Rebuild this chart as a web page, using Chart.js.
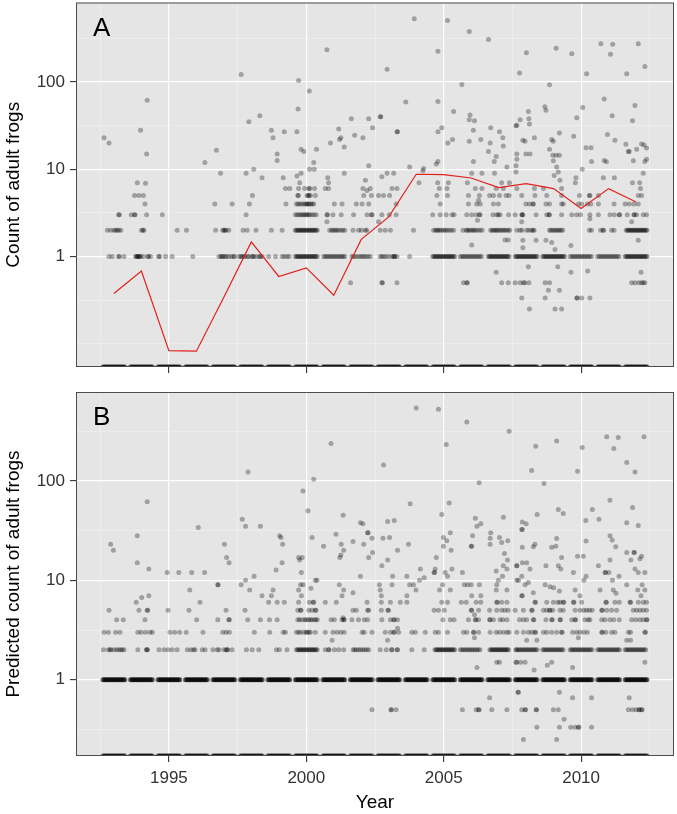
<!DOCTYPE html>
<html><head><meta charset="utf-8">
<script src="https://cdn.jsdelivr.net/npm/chart.js"></script>
<style>
html,body{margin:0;padding:0;background:#fff;overflow:hidden;}
#wrap{position:relative;width:677px;height:814px;}
canvas{position:absolute;left:0;}
</style></head><body>
<div id="wrap">
<canvas id="cA" width="677" height="380" style="top:0px"></canvas>
<canvas id="cB" width="677" height="434" style="top:380px"></canvas>
</div>
<script>
// ---------- axis ticks ----------
const xGridYears = [1992.5, 1995, 1997.5, 2000, 2002.5, 2005, 2007.5, 2010, 2012.5];
const xTickLabels = [1995, 2000, 2005, 2010];
const yTickLabels = [1, 10, 100];
const yMinorA = [0.1, 0.3162, 3.162, 31.62, 316.2];
const yMinorB = [0.3162, 3.162, 31.62, 316.2];

// ---------- red line: panel A yearly value ----------
const lineYears = [1993,1994,1995,1996,1997,1998,1999,2000,2001,2002,2003,2004,2005,2006,2007,2008,2009,2010,2011,2012];
const lineValues = [0.377,0.68,0.083,0.082,0.34,1.47,0.59,0.74,0.36,1.57,2.84,8.77,8.7,7.95,6.17,6.86,6.0,3.55,6.0,4.22];

// ---------- survey positions with a count of zero (drawn on the panel floor); panel B count = 1 fills the same spans ----------
const denseRowX = [
1992.6,1992.64,1992.68,1992.72,1992.76,1992.8,1992.84,1992.88,1992.92,1992.96,1993,1993.04,1993.08,1993.12,1993.16,1993.2,1993.24,1993.28,1993.32,1993.36,1993.4,
1993.6,1993.64,1993.68,1993.72,1993.76,1993.8,1993.84,1993.88,1993.92,1993.96,1994,1994.04,1994.08,1994.12,1994.16,1994.2,1994.24,1994.28,1994.32,1994.36,1994.4,
1994.6,1994.64,1994.68,1994.72,1994.76,1994.8,1994.84,1994.88,1994.92,1994.96,1995,1995.04,1995.08,1995.12,1995.16,1995.2,1995.24,1995.28,1995.32,1995.36,1995.4,
1995.6,1995.64,1995.68,1995.72,1995.76,1995.8,1995.84,1995.88,1995.92,1995.96,1996,1996.04,1996.08,1996.12,1996.16,1996.2,1996.24,1996.28,1996.32,1996.36,1996.4,
1996.6,1996.64,1996.68,1996.72,1996.76,1996.8,1996.84,1996.88,1996.92,1996.96,1997,1997.04,1997.08,1997.12,1997.16,1997.2,1997.24,1997.28,1997.32,1997.36,1997.4,
1997.6,1997.64,1997.68,1997.72,1997.76,1997.8,1997.84,1997.88,1997.92,1997.96,1998,1998.04,1998.08,1998.12,1998.16,1998.2,1998.24,1998.28,1998.32,1998.36,1998.4,
1998.6,1998.64,1998.68,1998.72,1998.76,1998.8,1998.84,1998.88,1998.92,1998.96,1999,1999.04,1999.08,1999.12,1999.16,1999.2,1999.24,1999.28,1999.32,1999.36,1999.4,
1999.6,1999.64,1999.68,1999.72,1999.76,1999.8,1999.84,1999.88,1999.92,1999.96,2000,2000.04,2000.08,2000.12,2000.16,2000.2,2000.24,2000.28,2000.32,2000.36,2000.4,
2000.6,2000.64,2000.68,2000.72,2000.76,2000.8,2000.84,2000.88,2000.92,2000.96,2001,2001.04,2001.08,2001.12,2001.16,2001.2,2001.24,2001.28,2001.32,2001.36,2001.4,
2001.6,2001.64,2001.68,2001.72,2001.76,2001.8,2001.84,2001.88,2001.92,2001.96,2002,2002.04,2002.08,2002.12,2002.16,2002.2,2002.24,2002.28,2002.32,2002.36,2002.4,
2002.6,2002.64,2002.68,2002.72,2002.76,2002.8,2002.84,2002.88,2002.92,2002.96,2003,2003.04,2003.08,2003.12,2003.16,2003.2,2003.24,2003.28,2003.32,2003.36,2003.4,
2003.6,2003.64,2003.68,2003.72,2003.76,2003.8,2003.84,2003.88,2003.92,2003.96,2004,2004.04,2004.08,2004.12,2004.16,2004.2,2004.24,2004.28,2004.32,2004.36,2004.4,
2004.6,2004.64,2004.68,2004.72,2004.76,2004.8,2004.84,2004.88,2004.92,2004.96,2005,2005.04,2005.08,2005.12,2005.16,2005.2,2005.24,2005.28,2005.32,2005.36,2005.4,
2005.6,2005.64,2005.68,2005.72,2005.76,2005.8,2005.84,2005.88,2005.92,2005.96,2006,2006.04,2006.08,2006.12,2006.16,2006.2,2006.24,2006.28,2006.32,2006.36,2006.4,
2006.6,2006.64,2006.68,2006.72,2006.76,2006.8,2006.84,2006.88,2006.92,2006.96,2007,2007.04,2007.08,2007.12,2007.16,2007.2,2007.24,2007.28,2007.32,2007.36,2007.4,
2007.6,2007.64,2007.68,2007.72,2007.76,2007.8,2007.84,2007.88,2007.92,2007.96,2008,2008.04,2008.08,2008.12,2008.16,2008.2,2008.24,2008.28,2008.32,2008.36,2008.4,
2008.6,2008.64,2008.68,2008.72,2008.76,2008.8,2008.84,2008.88,2008.92,2008.96,2009,2009.04,2009.08,2009.12,2009.16,2009.2,2009.24,2009.28,2009.32,2009.36,2009.4,
2009.6,2009.64,2009.68,2009.72,2009.76,2009.8,2009.84,2009.88,2009.92,2009.96,2010,2010.04,2010.08,2010.12,2010.16,2010.2,2010.24,2010.28,2010.32,2010.36,2010.4,
2010.6,2010.64,2010.68,2010.72,2010.76,2010.8,2010.84,2010.88,2010.92,2010.96,2011,2011.04,2011.08,2011.12,2011.16,2011.2,2011.24,2011.28,2011.32,2011.36,2011.4,
2011.6,2011.64,2011.68,2011.72,2011.76,2011.8,2011.84,2011.88,2011.92,2011.96,2012,2012.04,2012.08,2012.12,2012.16,2012.2,2012.24,2012.28,2012.32,2012.36,2012.4];

// ---------- panel A: observed counts ----------
const aOnes = [1992.82,1992.94,1993.17,1993.2,1993.37,
1993.79,1993.82,1993.85,1993.88,1993.91,1993.94,1993.97,1994.07,1994.23,1994.26,1994.33,
1994.63,1994.66,1994.88,1995.12,1995.87,
1996.82,1996.9,1996.94,1996.96,1997.06,1997.08,1997.18,1997.27,1997.36,1997.38,
1997.55,1997.63,1997.66,1997.73,1997.76,1997.87,1997.9,1998.03,1998.05,1998.1,1998.2,1998.3,1998.33,1998.4,
1998.63,1998.88,1999.12,1999.2,1999.3,1999.38,
1999.6,1999.64,1999.68,1999.72,1999.76,1999.8,1999.84,1999.88,1999.92,1999.96,2000,2000.04,2000.08,2000.12,2000.16,2000.2,2000.24,2000.28,2000.32,2000.36,2000.4,
2000.63,2000.69,2000.75,2000.81,2000.87,2000.93,2000.99,2001.05,2001.11,2001.17,2001.23,2001.29,2001.35,2001.4,
2001.66,2001.72,2001.8,2001.88,2001.97,2002.03,2002.1,2002.17,2002.25,2002.33,
2002.69,2002.75,2002.82,2002.9,2003,2003.12,2003.18,2003.2,2003.22,2003.3,2003.76,
2004.6,2004.64,2004.68,2004.72,2004.76,2004.8,2004.84,2004.88,2004.92,2004.96,2005,2005.04,2005.08,2005.12,2005.16,2005.2,2005.24,2005.28,2005.32,2005.36,2005.4,
2005.6,2005.66,2005.72,2005.78,2005.84,2005.9,2005.96,2006.02,2006.08,2006.14,2006.2,2006.26,2006.32,2006.38,
2006.62,2006.66,2006.7,2006.74,2006.78,2006.82,2006.86,2006.9,2006.94,2006.98,2007.02,2007.06,2007.1,2007.14,2007.18,2007.22,2007.26,2007.3,2007.34,2007.38,
2007.6,2007.64,2007.68,2007.72,2007.76,2007.8,2007.84,2007.88,2007.92,2007.96,2008,2008.04,2008.08,2008.12,2008.16,2008.2,2008.24,2008.28,2008.32,2008.36,2008.4,
2008.6,2008.64,2008.68,2008.72,2008.76,2008.8,2008.84,2008.88,2008.92,2008.96,2009,2009.04,2009.08,2009.12,2009.16,2009.2,2009.24,2009.28,2009.32,2009.36,2009.4,
2009.6,2009.66,2009.72,2009.78,2009.84,2009.9,2009.96,2010.02,2010.08,2010.14,2010.2,2010.26,2010.32,2010.38,
2010.6,2010.66,2010.72,2010.78,2010.84,2010.9,2010.96,2011.02,2011.08,2011.14,2011.2,2011.26,2011.32,2011.38,
2011.6,2011.64,2011.68,2011.72,2011.76,2011.8,2011.84,2011.88,2011.92,2011.96,2012,2012.04,2012.08,2012.12,2012.16,2012.2,2012.24,2012.28,2012.32,2012.36,2012.4];

const aTwos = [1992.76,1992.88,1993,1993.06,1993.12,1993.18,1993.25,1994,1994.06,1994.09,1995.3,1995.64,
1996.7,1996.96,1997,1997.04,1997.08,1997.18,1997.7,1997.85,1998.17,1998.73,1999.12,
1999.6,1999.64,1999.68,1999.72,1999.76,1999.8,1999.84,1999.88,1999.92,1999.96,2000,2000.04,2000.08,2000.12,2000.16,2000.2,2000.24,2000.28,2000.32,2000.36,2000.4,
2000.85,2000.92,2000.98,2001.05,2001.1,2001.17,2001.25,2001.33,2001.4,2001.7,2001.9,2002,2002.15,2002.2,2002.69,2002.87,2003.06,2003.9,
2004.63,2004.7,2004.76,2004.8,2004.86,2004.92,2005,2005.05,2005.12,2005.2,2005.28,2005.36,
2005.7,2005.82,2005.86,2005.92,2005.98,2006.05,2006.1,2006.16,2006.24,2006.32,2006.4,
2006.71,2006.76,2006.82,2006.88,2006.92,2006.98,2007.04,2007.1,2007.16,2007.22,2007.28,2007.35,2007.4,
2007.66,2007.78,2007.85,2008.02,2008.1,2008.2,2008.25,2008.29,
2008.85,2008.9,2008.97,2009.03,2009.09,2009.15,2009.21,2009.27,2009.33,
2010.3,2010.38,2010.71,2010.8,2010.82,2011.11,2011.2,
2011.64,2011.68,2011.72,2011.76,2011.8,2011.84,2011.88,2011.92,2011.96,2012,2012.04,2012.08,2012.12,2012.16,2012.2,2012.24,2012.28,2012.32,2012.36,2012.4];

const aThrees = [1993.17,1993.2,1993.63,1993.75,1993.77,1994.19,1994.76,1997.81,
1999.6,1999.67,1999.74,1999.8,1999.86,1999.92,1999.97,2000.02,2000.07,2000.12,2000.2,2000.28,2000.36,
2000.75,2000.77,2000.97,2001.27,2001.72,2002.21,2002.37,2002.39,2002.75,2003.02,2003.27,
2004.6,2004.87,2005.09,2005.3,2005.38,2005.84,2006.02,2006.18,2006.3,2006.32,
2006.79,2006.93,2006.99,2007.05,2007.36,2007.6,2007.84,2007.86,2007.88,2008.36,2008.75,2008.83,2008.85,2009.29,
2009.66,2009.84,2009.98,2010.32,2010.63,2011.05,2011.21,2011.39,2011.4,2011.68,2011.92,2011.94,2012.02,2012.26,2012.38];

const aFours = [1994.13,1996.67,1997.3,1997.93,1999.26,1999.64,1999.7,1999.77,1999.84,1999.92,1999.98,2000.02,2000.06,2000.1,2000.16,2000.22,2000.27,
2001.02,2001.3,2001.82,2002.03,2002.27,2003.27,2004.87,2005.9,2006.2,2006.33,2006.81,2006.99,
2007.99,2008.12,2008.25,2008.26,2008.72,2008.85,2009.29,2009.35,2009.9,2010.02,2010.23,2010.35,2010.63,2011.2,2011.6,2011.75,2011.92,2012.08];

const aFives = [1993.75,1993.91,1994.07,1998.04,1999.69,1999.71,2000.03,2000.07,2000.1,2000.15,2000.33,2002.09,2002.37,2002.63,2002.81,2003.03,
2004.75,2005.14,2005.9,2006.3,2006.67,2006.81,2007.03,2007.27,2007.38,2007.84,2008.32,2008.75,2009.29,2009.94,2010.3,2010.32,2010.63,2012.08,2012.2];

const aSixes = [1999.24,1999.4,1999.72,1999.94,2000.1,2000.12,2000.3,2000.69,2000.81,2002.06,2002.33,2003.12,2003.3,2004.84,2005.12,
2006.15,2006.39,2006.91,2007.17,2007.66,2008.3,2008.63,2009.29,2012.16];

const aOther = [[1992.64,23],[1992.82,20],[1993.97,28],[1994.21,62],[1994.19,15],[1996.31,12],[1996.73,16.5],[1996.88,9],[1993.85,7],[1994.15,6.9],
[2000.75,235],[1997.63,122],[1999.72,104],[2000.11,79],[1999.7,49],[1998.31,41],[1997.91,35],[1998.73,28],[1998.79,23],[1999.2,27],[1999.66,27],[1998.94,15],[1998.94,12.6],[1999.81,17],[1999.91,16],[2000.37,17],[2000.27,12],[2000.12,10],[2000.29,10],[2001.64,38],[2002.27,38],[2001.18,29],[2001.26,23],[2001.21,22],[2000.88,20],[2001.76,24.5],[2002.06,23],[2001.38,18],[2002.27,11],[1997.81,9],[1998.09,10],[1998.39,8],[1999.16,8],[1999.66,8.4],[1999.81,9],[1999.76,7],[2000.78,8],[2000.81,7],[2001.38,9],[2002.15,7.5],[2002.21,5.7],[2000.75,2.5],[2001.61,0.5],
[2003.93,532],[2005.14,509],[2005.93,381],[2006.63,308],[2004.79,226],[2002.94,140],[2007.76,127],[2005.66,94],[2003.62,59],[2004.79,60],[2005.36,46],[2002.41,30],[2002.69,40],[2002.71,40],[2003.3,27],[2003.32,27],[2004.93,30],[2004.79,27],[2005.15,20],[2005.32,22],[2005.96,42],[2006.12,36],[2005.93,37],[2006.08,28],[2005.93,21],[2006.35,22],[2006.71,30],[2006.69,20],[2007.03,27],[2007.15,23],[2007.17,18.5],[2006.63,16],[2006.91,14],[2006.84,12.3],[2007.63,31.5],[2007.66,15],[2007.66,13],[2004.79,12.3],[2004.73,11.5],[2006.08,12.3],[2003.76,10.6],[2004.27,10.2],[2004.24,9.6],[2002.94,9],[2002.75,8.2],[2003.18,9],[2004.78,7],[2005.17,7],[2005.86,7],[2006.02,9],[2006.39,9],[2006.85,9],[2007.11,7],[2007.39,7],[2007.3,10.6],[2007.63,11],[2002.63,2.5],[2006.23,2.6],[2006.27,4.4],[2006.02,1.35],[2007.23,1.54],[2007.35,1.54],[2006.91,0.66],[2004.1,7],
[2002.75,0.5],[2002.77,0.5],[2003.3,0.5],[2005.72,0.5],[2005.84,0.5],[2005.86,0.5],[2007.11,0.5],[2007.35,0.5],[2007.6,0.5],[2007.78,0.5],[2007.9,0.5],[2007.95,0.5],[2008.1,0.5],[2008.69,0.5],[2008.85,0.5],[2011.84,0.5],[2011.96,0.5],[2012.1,0.5],[2012.2,0.5],[2012.26,0.5],[2012.32,0.5],
[2010.72,275],[2011.15,272],[2012.08,275],[2011.07,208],[2012.32,151],[2008.01,217],[2009.09,245],[2009.66,212],[2010.2,125],[2011.66,125],[2008.85,93],[2010.84,64],[2011.96,54],[2011.13,41],[2010.06,51],[2009.84,39],[2008.72,47.5],[2008.68,52],[2008.08,46],[2008.1,38],[2008.12,33],[2007.78,37],[2007.66,32],[2009.21,26],[2008.93,22],[2008.99,21],[2009.73,24],[2008.3,23],[2007.88,21.5],[2007.96,21],[2011.87,36],[2010.96,25],[2011.23,21.5],[2011.63,19.4],[2011.72,16],[2011.75,16],[2012.02,17],[2012.2,19.5],[2012.29,19],[2012.38,17.5],[2010.18,17.7],[2010.36,17.7],[2007.99,15],[2008.14,15],[2008.85,17],[2008.97,14.5],[2009.09,14.5],[2009.21,14.5],[2010.84,12.6],[2010.92,12.2],[2010.38,12.3],[2007.63,9.3],[2008.99,12.5],[2009.11,10.6],[2011.9,12.5],[2012.32,12.3],[2012.38,13],[2012.26,9],[2010.04,10],[2009.17,9.3],[2009.23,7.5],[2009.02,8.5],[2009.81,8],[2009.79,7],[2010.81,8],[2011.21,8],[2011.87,7],[2012.13,7],
[2008.36,1.53],[2008.72,1.53],[2008.93,1.45],[2007.88,1.53],[2007.88,1.26],[2009.05,1.2],[2009.63,1.34],[2012.08,1.53],[2008.08,0.76],[2009.15,0.76],[2010.24,0.68],[2009.63,0.66],[2012.18,0.66],[2008.81,0.41],[2009.21,0.41],
[2007.84,0.333],[2008.69,0.333],[2009.84,0.333],[2009.86,0.333],[2010.02,0.333],[2010.32,0.333],[2008.12,0.25],[2009.05,0.25],[2009.29,0.25],[2007.84,2.5],[2011.84,2.5],[2010.32,2.7]];

// ---------- panel B: predicted counts ----------
const bTwos = [1992.62,1992.8,1992.85,1992.9,1993,1993.1,1993.17,1993.25,1993.3,1993.37,1993.87,1994.18,1994.2,1994.22,1994.64,1994.82,1994.97,1995.12,1995.3,
1995.67,1995.8,1995.9,1995.95,1996.21,1996.32,1996.6,1996.76,1996.82,1997,1997.08,1997.12,1997.14,1997.3,1997.82,1998.03,1998.27,1998.91,1999.02,1999.3,
1999.64,1999.68,1999.72,1999.76,1999.8,1999.84,1999.88,1999.92,1999.96,2000,2000.04,2000.08,2000.12,2000.16,2000.2,2000.24,2000.28,2000.32,2000.36,2000.4,
2000.69,2000.81,2000.83,2001.02,2001.18,2001.36,2001.7,2001.76,2001.82,2001.9,2001.97,2002.05,2002.12,2002.2,2002.27,
2002.69,2002.91,2003.1,2003.12,2003.3,2003.32,2003.84,2004.29,
2004.68,2004.72,2004.76,2004.8,2004.84,2004.88,2004.92,2004.96,2005,2005.04,2005.08,2005.12,2005.16,2005.2,2005.24,2005.28,2005.32,2005.36,2005.4,
2005.6,2005.66,2005.72,2005.78,2005.84,2005.9,2005.96,2006.02,2006.08,2006.14,2006.2,2006.26,2006.32,
2006.68,2006.72,2006.76,2006.8,2006.84,2006.88,2006.92,2006.96,2007,2007.04,2007.08,2007.12,2007.16,2007.2,2007.24,2007.28,2007.32,2007.36,
2007.63,2007.65,2007.7,2007.75,2007.8,2007.85,2007.9,2007.95,2008,2008.05,2008.1,2008.15,2008.2,2008.25,2008.3,2008.35,2008.4,
2008.6,2008.65,2008.7,2008.75,2008.8,2008.85,2008.9,2008.95,2009,2009.05,2009.1,2009.15,2009.2,2009.25,2009.3,2009.35,
2009.6,2009.65,2009.7,2009.75,2009.8,2009.85,2009.9,2009.95,2010,2010.05,2010.1,2010.15,2010.2,2010.25,2010.3,2010.35,2010.4,
2010.6,2010.65,2010.7,2010.75,2010.8,2010.85,2010.9,2010.95,2011,2011.05,2011.1,2011.15,2011.2,2011.25,2011.3,2011.35,2011.4,
2011.6,2011.65,2011.7,2011.75,2011.8,2011.85,2011.9,2011.95,2012,2012.05,2012.1,2012.15,2012.2,2012.25,2012.3,2012.35];

const bThrees = [1992.64,1992.8,1993.06,1993.22,1993.87,1993.99,1994.15,1994.31,1994.4,1995.04,1995.21,1995.39,1995.63,1996.24,1996.96,1997.08,1997.2,1998.11,1998.67,1999.16,1999.24,
1999.64,1999.72,1999.79,1999.91,2000,2000.03,2000.1,2000.15,2000.33,2000.69,2000.97,2001.12,2001.26,2001.38,2002.03,2002.11,2002.39,2002.87,2003.06,2003.18,2003.2,2003.36,
2003.84,2003.97,2004.33,2004.69,2004.81,2005.14,2005.72,2005.84,2006.08,2006.1,2006.27,2006.69,2006.91,2007.03,2007.17,2007.3,2007.38,2007.66,2007.9,2008.08,2008.2,2008.32,2008.34,
2008.63,2008.75,2008.93,2009.11,2009.29,2009.31,2009.69,2009.84,2009.96,2010.1,2010.23,2010.75,2010.77,2010.9,2011.11,2011.23,2011.72,2011.8,2012.32,2012.34];

const bFours = [1993.1,1993.34,1994.13,1996.01,1996.78,1997.18,1997.2,1997.87,1998.33,1998.66,1998.94,1999.69,1999.75,1999.85,1999.95,2000,2000.08,2000.15,2000.2,2000.29,2000.35,2000.4,
2000.9,2001.02,2001.3,2001.36,2001.38,2001.66,2001.9,2002.11,2002.23,2002.75,2003.06,2003.18,2003.2,2003.32,2004.97,2005.24,2005.38,2005.9,2006.15,2006.17,2006.27,
2006.67,2006.69,2006.81,2007.05,2007.15,2007.3,2007.76,2007.9,2008.02,2008.26,2008.28,2008.72,2008.93,2008.95,2009.23,2009.25,2009.66,2009.78,2009.8,
2010.14,2010.26,2010.32,2010.75,2010.87,2011.05,2011.19,2011.39,2011.84,2011.99,2012.14,2012.26,2012.38,2012.4];

const bFives = [1992.82,1993.91,1994.21,1994.23,1994.97,1995.73,1997.08,1997.77,1999.69,1999.79,1999.81,2000.09,2000.21,2000.33,2000.35,2001.7,2001.82,2002.23,2002.27,2002.73,2002.97,2002.99,
2004.65,2004.81,2005.02,2006,2006.02,2006.27,2006.67,2006.93,2007.11,2007.23,2007.35,2007.6,2007.9,2008.2,2008.22,2008.63,2008.75,2008.85,2008.87,2008.97,2009.23,2009.35,
2009.78,2009.96,2010.1,2010.2,2010.3,2010.4,2010.75,2010.77,2010.93,2011.11,2011.29,2011.9,2012.02,2012.14,2012.26,2012.38];

const bSixes = [1993.81,1996.13,1998.63,1998.94,1999.2,1999.72,2000.11,2000.25,2000.27,2000.69,2001.09,2002.21,2002.73,2003.06,2003.42,2003.66,2004.93,2005.14,2005.64,2005.82,
2006.18,2006.35,2006.93,2006.95,2007.11,2007.3,2008.32,2008.34,2008.75,2008.99,2009.15,2009.23,2009.35,2009.37,2009.72,2009.74,2010.02,2010.9,2010.92,2011.23,2011.39,2011.78,2011.8,2012.08,2012.26,2012.38];

const bOther = [[1994.21,61.5],[1993.85,28],[1992.88,23],[1992.98,20],[1993.85,15],[1994.27,13],[1994.94,12],[1995.36,12],[1995.83,12],[1996.3,12],[1996.07,34],[1996.78,9],[1995.76,8],[1994.01,6.7],[1994.27,7],
[2000.9,238],[1997.88,123],[2000.27,104],[1999.88,79],[2000.06,50],[1997.67,41],[1997.79,35],[1998.33,35],[2001.34,45],[2001.97,38],[2002.06,37],[2002.23,30],[1997.02,23],[1997.1,17],[1997.19,15],[1999.03,28],[1999.08,27],[1999.14,23],[2000.21,27],[2000.63,22],[2001.08,29],[2001.27,23],[2001.36,20],[2001.26,18],[2001.22,17],[2001.7,24.5],[2002.09,23],[2002.27,17],[1999.72,17],[1999.85,17],[1999.76,16],[1999.12,15],[1998.9,12.7],[1999.82,12],[1998.1,11],[1996.79,9],[1997.63,9],[1997.79,10],[1997.94,8],[1998.39,7],[1998.73,7],[1998.79,8],[1999.79,9],[1999.88,9],[1999.72,8],[1999.82,7],[2000.17,8.3],[2000.33,10],[2000.39,10],[2001.2,9],[2001.36,8],[2001.3,7],[2001.7,7.5],[2001.97,11],[2001.34,4.2],[2000.94,2.5],
[2004,542],[2004.81,525],[2005.84,392],[2007.38,316],[2005.09,232],[2002.81,144],[2006.29,96],[2003.78,59],[2005.2,60],[2004.93,46],[2006.15,42],[2006.21,35],[2006.35,37],[2007.17,43],[2002.96,39],[2003.2,40],[2002.25,30],[2002.39,26.5],[2002.79,26.5],[2003.03,27],[2002.41,19],[2003.32,20],[2003.72,23],[2002.96,16],[2002.75,14],[2004.99,27],[2005.11,25],[2005.24,30],[2004.99,22],[2005.27,20],[2004.73,17],[2004.69,13],[2004.65,12],[2004.67,12],[2005.05,12],[2005.14,11],[2005.3,13],[2006.05,28],[2006,22],[2006.02,22],[2006.71,30],[2006.69,26.5],[2006.69,23],[2007.03,27],[2007.11,24],[2007.33,25],[2007.21,18.6],[2007.32,16],[2007.17,14],[2007.3,13],[2006.91,12.4],[2006.99,10],[2007.14,11],[2007.66,14],[2005.68,12],[2004.15,13],[2004.29,10.6],[2004.12,10],[2003.99,8],[2003.66,11],[2003.14,11],[2003.12,9],[2003.76,9],[2003.9,9],[2002.66,9],[2002.69,8],[2002.73,7],[2003.66,7],[2004.96,9],[2004.85,8],[2005.24,8],[2005.75,9],[2005.87,9],[2006,9],[2006.3,9],[2006.02,7],[2006.35,7],[2006.93,9],[2006.91,8],[2007.3,8],[2007.66,10],[2006.12,4.5],[2003.32,3.3],[2006.12,2.64],[2002.96,2.5],[2006.21,1.33],[2006.93,1.5],[2007.03,1.5],[2007.63,1.5],[2006.67,0.66],[2007.7,0.75],[2002.39,0.5],[2003.08,0.5],[2003.1,0.5],[2003.27,0.5],[2005.68,0.5],[2006.18,0.5],[2006.27,0.5],[2006.29,0.5],[2006.75,0.5],[2007.3,0.5],
[2010.93,277],[2011.35,273],[2012.29,278],[2009.11,252],[2008.35,223],[2010.04,216],[2011.19,211],[2011.66,153],[2011.96,123],[2008.2,127],[2009.87,125],[2008.65,94],[2011.05,64],[2011.87,54],[2009.17,51.5],[2009.35,47],[2010.41,51.5],[2010.65,41],[2008.4,46],[2007.86,38.6],[2008,37],[2011.66,38],[2012.08,35.5],[2010.17,40],[2007.84,32.5],[2007.86,32.5],[2011.05,28],[2011.13,25.4],[2011.26,21.7],[2009.11,26.3],[2008.93,21.5],[2009.08,22],[2010.18,24.8],[2007.86,21.5],[2008.26,21.7],[2008.32,23],[2009.29,17],[2009.87,17.5],[2010.08,17.5],[2011.66,19],[2011.92,19],[2011.94,19],[2011.81,16],[2012.14,16.5],[2012.2,17.5],[2011.05,16],[2010.63,14],[2007.66,14],[2007.86,15],[2008.02,15],[2008.14,13],[2008.72,14],[2009.17,14],[2009.26,13],[2010.87,12],[2010.89,12],[2011.01,12],[2011.96,13],[2012.08,12],[2012.32,12],[2009.72,12],[2010.18,11],[2010.1,10],[2007.84,11],[2008.08,9.5],[2007.96,9],[2007.72,10],[2008.69,9],[2008.87,8.6],[2009,8.4],[2009.21,7.8],[2011.38,11],[2011.14,10],[2011.27,7.4],[2011.17,8],[2010.69,8],[2009.78,8],[2009.96,7],[2011.66,9],[2012.06,8],[2012.22,9],[2012.32,8],[2012.18,7],[2008.26,7.5],[2007.84,7],[2007.86,7],
[2009.9,2.64],[2008.02,2.5],[2008.39,2.5],[2011.66,2.5],[2011.8,2.5],[2007.66,1.5],[2007.8,1.5],[2007.96,1.5],[2008.29,1.25],[2008.77,1.4],[2008.93,1.5],[2009.69,1.33],[2012.32,1.5],[2007.72,0.75],[2009.21,0.75],[2009.69,0.66],[2010.38,0.66],[2011.75,0.66],
[2007.84,0.5],[2007.96,0.5],[2007.98,0.5],[2008.36,0.5],[2008.38,0.5],[2008.99,0.5],[2009.17,0.5],[2011.72,0.5],[2011.87,0.5],[2012,0.5],[2012.1,0.5],[2012.12,0.5],[2012.2,0.5],[2012.22,0.5],[2009.38,0.4],
[2008.39,0.333],[2009.21,0.333],[2009.62,0.333],[2009.78,0.333],[2009.9,0.333],[2009.92,0.333],[2010.38,0.333],[2007.9,0.25],[2009.11,0.25]];

// ---------- drawing ----------
const FONT = '"Liberation Sans", Arial, Helvetica, sans-serif';
const X_MIN = 1991.62, X_MAX = 2013.38;
const A_MIN = 0.054, A_MAX = 818;
const B_MIN = 0.171, B_MAX = 783;

const dot = { type: 'scatter', pointRadius: 2.5, pointHoverRadius: 0, pointBorderWidth: 0, borderWidth: 0,
  backgroundColor: 'rgba(0,0,0,0.3)', pointBackgroundColor: 'rgba(0,0,0,0.3)', showLine: false };
const rowSet = (xs, y) => Object.assign({}, dot, { data: xs.map(x => ({ x: x, y: y })) });
const pairSet = ps => Object.assign({}, dot, { data: ps.map(p => ({ x: p[0], y: p[1] })) });
// fully covered rows (many overlapping surveys) are drawn a little denser
const denseSet = (xs, y) => Object.assign({}, dot, { backgroundColor: 'rgba(0,0,0,0.5)', pointBackgroundColor: 'rgba(0,0,0,0.5)', data: xs.map(x => ({ x: x, y: y })) });

const isMajX = v => xTickLabels.indexOf(v) >= 0;
const isMajY = v => yTickLabels.indexOf(v) >= 0;

function xAxis(showLabels, h) {
  return {
    type: 'linear', min: X_MIN, max: X_MAX,
    afterBuildTicks: s => { s.ticks = xGridYears.map(v => ({ value: v })); },
    afterFit: s => { s.height = h; s.paddingLeft = 0; s.paddingRight = 0; s.paddingTop = 0; s.paddingBottom = 0; },
    ticks: { autoSkip: false, maxRotation: 0, minRotation: 0, padding: 6, color: '#333',
      font: { family: FONT, size: 17 },
      callback: v => (showLabels && isMajX(v)) ? String(v) : '' },
    grid: { drawTicks: true, tickLength: 6, tickWidth: 1.1,
      color: c => (c.tick && isMajX(c.tick.value)) ? '#ffffff' : '#f2f2f2',
      lineWidth: c => (c.tick && isMajX(c.tick.value)) ? 1.2 : 0.6,
      tickColor: c => (c.tick && isMajX(c.tick.value)) ? '#333' : 'rgba(0,0,0,0)' },
    border: { display: false },
    title: { display: showLabels, text: 'Year', color: '#000', font: { family: FONT, size: 19 }, padding: { top: 0, bottom: 0 } }
  };
}
function yAxis(min, max, minors, title) {
  const all = minors.concat(yTickLabels).filter(v => v >= min && v <= max).sort((a, b) => a - b);
  return {
    type: 'logarithmic', min: min, max: max,
    afterBuildTicks: s => { s.ticks = all.map(v => ({ value: v })); },
    afterFit: s => { s.width = 76; s.paddingTop = 0; s.paddingBottom = 0; s.paddingLeft = 0; s.paddingRight = 0; },
    ticks: { autoSkip: false, padding: 5, color: '#333', font: { family: FONT, size: 17 },
      callback: v => isMajY(v) ? String(v) : '' },
    grid: { drawTicks: true, tickLength: 6, tickWidth: 1.1,
      color: c => (c.tick && isMajY(c.tick.value)) ? '#ffffff' : '#f2f2f2',
      lineWidth: c => (c.tick && isMajY(c.tick.value)) ? 1.2 : 0.6,
      tickColor: c => (c.tick && isMajY(c.tick.value)) ? '#333' : 'rgba(0,0,0,0)' },
    border: { display: false },
    title: { display: true, text: title, color: '#000', font: { family: FONT, size: 19 }, padding: { top: 2, bottom: 0 } }
  };
}
const panelPlugin = letter => ({
  id: 'panel' + letter,
  beforeDraw(chart) {
    const a = chart.chartArea, ctx = chart.ctx;
    ctx.save(); ctx.fillStyle = '#E5E5E5';
    ctx.fillRect(a.left, a.top, a.right - a.left, a.bottom - a.top); ctx.restore();
  },
  afterDraw(chart) {
    const a = chart.chartArea, ctx = chart.ctx;
    ctx.save();
    ctx.strokeStyle = '#4d4d4d'; ctx.lineWidth = 1;
    ctx.strokeRect(a.left + 0.5, a.top + 0.5, a.right - a.left - 1, a.bottom - a.top - 1);
    ctx.fillStyle = '#000'; ctx.font = '26px ' + FONT; ctx.textBaseline = 'alphabetic';
    ctx.fillText(letter, a.left + 17, a.top + 33);
    ctx.restore();
  }
});
const common = { responsive: false, animation: false, devicePixelRatio: 1, events: [],
  plugins: { legend: { display: false }, tooltip: { enabled: false } } };

new Chart(document.getElementById('cA'), {
  type: 'scatter',
  data: { datasets: [
    { type: 'line', data: lineYears.map((y, i) => ({ x: y, y: lineValues[i] })), borderColor: '#E3211C',
      borderWidth: 1.2, pointRadius: 0, fill: false, tension: 0, showLine: true },
    denseSet(denseRowX, A_MIN),
    rowSet(aOnes, 1), rowSet(aTwos, 2), rowSet(aThrees, 3), rowSet(aFours, 4), rowSet(aFives, 5), rowSet(aSixes, 6),
    pairSet(aOther)
  ] },
  options: Object.assign({}, common, {
    layout: { padding: { top: 2, right: 3, left: 0, bottom: 0 } },
    scales: { x: xAxis(false, 13), y: yAxis(A_MIN, A_MAX, yMinorA, 'Count of adult frogs') }
  }),
  plugins: [panelPlugin('A')]
});

new Chart(document.getElementById('cB'), {
  type: 'scatter',
  data: { datasets: [
    denseSet(denseRowX, B_MIN),
    denseSet(denseRowX, 1), rowSet(bTwos, 2), rowSet(bThrees, 3), rowSet(bFours, 4), rowSet(bFives, 5), rowSet(bSixes, 6),
    pairSet(bOther)
  ] },
  options: Object.assign({}, common, {
    layout: { padding: { top: 12, right: 3, left: 0, bottom: 0 } },
    scales: { x: xAxis(true, 58), y: yAxis(B_MIN, B_MAX, yMinorB, 'Predicted count of adult frogs') }
  }),
  plugins: [panelPlugin('B')]
});
</script>
</body></html>
